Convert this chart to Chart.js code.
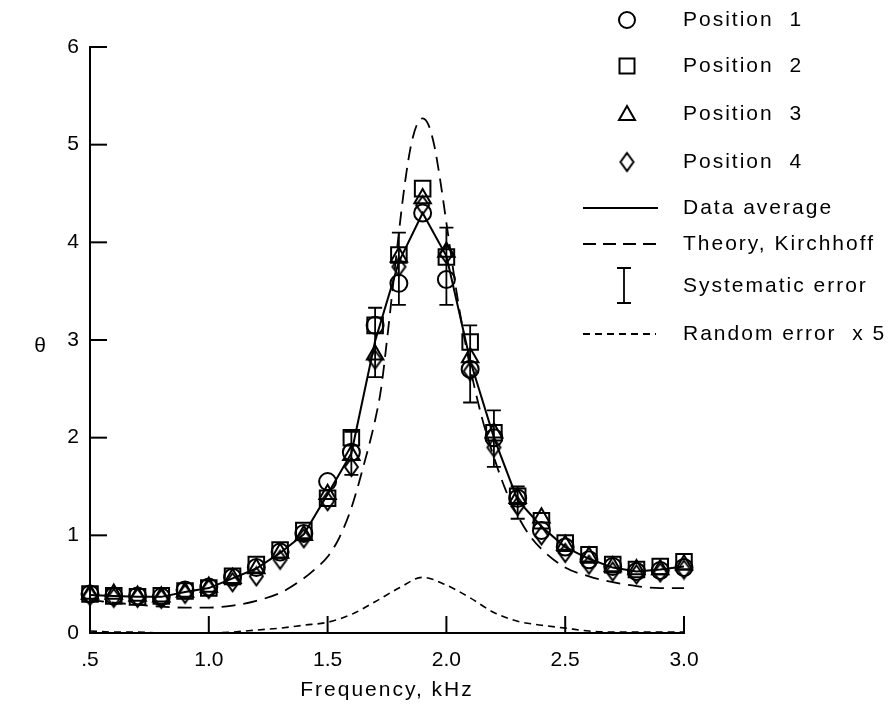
<!DOCTYPE html>
<html>
<head>
<meta charset="utf-8">
<script src="https://cdn.jsdelivr.net/npm/chart.js@4.4.0/dist/chart.umd.min.js"></script>
<style>
body { margin: 0; background: #fff; }
</style>
</head>
<body>
<canvas id="myChart" width="894" height="712"></canvas>
<script>
// measured frequencies (kHz)
var freq = [0.5,0.6,0.7,0.8,0.9,1.0,1.1,1.2,1.3,1.4,1.5,1.6,1.7,1.8,1.9,2.0,2.1,2.2,2.3,2.4,2.5,2.6,2.7,2.8,2.9,3.0];
var pos1 = [0.40,0.38,0.38,0.37,0.44,0.47,0.57,0.67,0.83,1.02,1.55,1.85,3.15,3.58,4.30,3.62,2.70,2.00,1.38,1.05,0.88,0.75,0.68,0.63,0.64,0.67];
var pos2 = [0.40,0.38,0.37,0.38,0.43,0.46,0.58,0.70,0.85,1.05,1.38,2.00,3.15,3.87,4.55,3.85,2.98,2.05,1.40,1.15,0.92,0.80,0.70,0.65,0.68,0.73];
var pos3 = [0.40,0.40,0.38,0.37,0.42,0.47,0.56,0.66,0.82,1.00,1.42,1.82,2.85,3.85,4.45,3.90,2.82,2.05,1.38,1.18,0.90,0.78,0.68,0.65,0.65,0.70];
var pos4 = [0.38,0.36,0.36,0.35,0.40,0.45,0.52,0.58,0.75,0.97,1.35,1.70,2.80,3.75,4.38,3.88,2.68,1.90,1.30,1.00,0.82,0.70,0.63,0.60,0.62,0.65];
var average = [0.39,0.38,0.37,0.37,0.42,0.46,0.56,0.66,0.82,1.01,1.42,1.84,2.99,3.80,4.30,3.86,2.79,2.00,1.36,1.09,0.88,0.76,0.67,0.63,0.65,0.68];
var randomErr = [0.02,0.01,0.01,0.00,0.00,0.00,0.01,0.03,0.05,0.08,0.11,0.19,0.32,0.46,0.57,0.49,0.36,0.21,0.12,0.08,0.05,0.02,0.01,0.01,0.01,0.01];

// Kirchhoff theory curve
var theoryFreq = [0.5,0.6,0.7,0.8,0.9,1.0,1.1,1.2,1.3,1.4,1.45,1.5,1.55,1.6,1.65,1.7,1.725,1.75,1.775,1.8,1.825,1.85,1.875,1.9,1.925,1.95,1.975,2.0,2.05,2.1,2.15,2.2,2.25,2.3,2.35,2.4,2.5,2.6,2.7,2.8,2.9,3.0];
var theory = [0.34,0.31,0.29,0.27,0.26,0.26,0.28,0.33,0.41,0.56,0.66,0.78,0.98,1.28,1.70,2.18,2.50,3.00,3.55,4.10,4.60,4.98,5.20,5.27,5.20,4.98,4.62,4.20,3.38,2.72,2.20,1.80,1.46,1.20,1.00,0.86,0.67,0.58,0.52,0.48,0.46,0.46];

// systematic error bars
var errFreq = [1.6,1.7,1.8,2.0,2.1,2.2,2.3];
var errHigh = [2.06,3.33,4.10,4.15,3.15,2.28,1.50];
var errLow = [1.62,2.62,3.36,3.36,2.36,1.70,1.17];

var xTickLabels = ['.5','1.0','1.5','2.0','2.5','3.0'];
var yTickLabels = ['0','1','2','3','4','5','6'];
var legendLabels = ['Position  1','Position  2','Position  3','Position  4','Data average','Theory, Kirchhoff','Systematic error','Random error  x 5'];

var FONT = '"Liberation Sans", Arial, sans-serif';

function pts(xs, ys) {
    return xs.map(function (x, i) { return {x: x, y: ys[i]}; });
}

// narrow diamond marker
function diamond(w, h) {
    var c = document.createElement('canvas');
    c.width = w + 4; c.height = h + 4;
    var g = c.getContext('2d');
    g.strokeStyle = '#000';
    g.lineWidth = 2;
    g.beginPath();
    g.moveTo(c.width / 2, 2);
    g.lineTo(c.width - 2, c.height / 2);
    g.lineTo(c.width / 2, c.height - 2);
    g.lineTo(2, c.height / 2);
    g.closePath();
    g.stroke();
    return c;
}
var diamondImg = diamond(13, 18);

var markerBase = {
    showLine: false,
    clip: false,
    backgroundColor: 'rgba(0,0,0,0)',
    borderColor: '#000',
    pointBorderWidth: 2
};

var inwardTicks = {
    id: 'inwardTicks',
    beforeDraw: function (chart) {
        chart.ctx.letterSpacing = '2px';
    },
    afterDatasetsDraw: function (chart) {
        var ctx = chart.ctx, xs = chart.scales.x, ys = chart.scales.y;
        ctx.save();
        ctx.strokeStyle = '#000';
        ctx.lineWidth = 1.8;
        errFreq.forEach(function (f, i) {
            var px = xs.getPixelForValue(f);
            var top = ys.getPixelForValue(errHigh[i]);
            var bot = ys.getPixelForValue(errLow[i]);
            ctx.beginPath();
            ctx.moveTo(px, top); ctx.lineTo(px, bot);
            ctx.moveTo(px - 7, top); ctx.lineTo(px + 7, top);
            ctx.moveTo(px - 7, bot); ctx.lineTo(px + 7, bot);
            ctx.stroke();
        });
        ctx.restore();
        // tick labels come next (z: 1), without the extra spacing
        ctx.letterSpacing = '0px';
    },
    afterDraw: function (chart) {
        var ctx = chart.ctx, xs = chart.scales.x, ys = chart.scales.y, a = chart.chartArea;
        ctx.save();
        ctx.strokeStyle = '#000';
        ctx.lineWidth = 2;
        xs.ticks.forEach(function (t) {
            if (t.value === xs.min) return;
            var px = xs.getPixelForValue(t.value);
            ctx.beginPath(); ctx.moveTo(px, a.bottom); ctx.lineTo(px, a.bottom - 17); ctx.stroke();
        });
        ys.ticks.forEach(function (t) {
            if (t.value === ys.min) return;
            var py = ys.getPixelForValue(t.value);
            ctx.beginPath(); ctx.moveTo(a.left, py); ctx.lineTo(a.left + 17, py); ctx.stroke();
        });

        // theta label
        ctx.letterSpacing = '2px';
        ctx.fillStyle = '#000';
        ctx.font = '21px ' + FONT;
        ctx.textAlign = 'center';
        ctx.textBaseline = 'middle';
        ctx.fillText('\u03b8', 41, 346);

        // legend
        var lx = 627, tx = 683;
        var rows = [20, 66, 114, 162, 208, 244, 286, 334];
        ctx.lineWidth = 2;
        ctx.beginPath(); ctx.arc(lx, rows[0], 8, 0, Math.PI * 2); ctx.stroke();
        ctx.strokeRect(lx - 7.5, rows[1] - 7.5, 15, 15);
        ctx.beginPath(); ctx.moveTo(lx, rows[2] - 8); ctx.lineTo(lx + 8, rows[2] + 6); ctx.lineTo(lx - 8, rows[2] + 6); ctx.closePath(); ctx.stroke();
        ctx.drawImage(diamondImg, lx - diamondImg.width / 2, rows[3] - diamondImg.height / 2);
        ctx.beginPath(); ctx.moveTo(583, rows[4]); ctx.lineTo(658, rows[4]); ctx.stroke();
        ctx.lineWidth = 1.8;
        ctx.setLineDash([13, 7]);
        ctx.beginPath(); ctx.moveTo(583, rows[5]); ctx.lineTo(658, rows[5]); ctx.stroke();
        ctx.setLineDash([7, 5]);
        ctx.beginPath(); ctx.moveTo(583, rows[7]); ctx.lineTo(656, rows[7]); ctx.stroke();
        ctx.setLineDash([]);
        ctx.beginPath();
        ctx.moveTo(624, rows[6] - 18); ctx.lineTo(624, rows[6] + 17);
        ctx.moveTo(617, rows[6] - 18); ctx.lineTo(631, rows[6] - 18);
        ctx.moveTo(617, rows[6] + 17); ctx.lineTo(631, rows[6] + 17);
        ctx.stroke();
        ctx.textAlign = 'left';
        legendLabels.forEach(function (s, i) {
            ctx.fillText(s, tx, rows[i]);
        });
        ctx.restore();
    }
};

var ctx = document.getElementById('myChart').getContext('2d');
var myChart = new Chart(ctx, {
    type: 'scatter',
    data: {
        datasets: [
            Object.assign({label: 'Position 1', data: pts(freq, pos1), pointStyle: 'circle', pointRadius: 8.5}, markerBase),
            Object.assign({label: 'Position 2', data: pts(freq, pos2), pointStyle: 'rect', pointRadius: 11}, markerBase),
            Object.assign({label: 'Position 3', data: pts(freq, pos3), pointStyle: 'triangle', pointRadius: 9.5}, markerBase),
            Object.assign({label: 'Position 4', data: pts(freq, pos4), pointStyle: diamondImg, pointRadius: 9}, markerBase),
            {
                label: 'Data average',
                data: pts(freq, average),
                showLine: true,
                pointRadius: 0,
                borderColor: '#000',
                borderWidth: 2,
                tension: 0
            },
            {
                label: 'Theory, Kirchhoff',
                data: pts(theoryFreq, theory),
                showLine: true,
                pointRadius: 0,
                borderColor: '#000',
                borderWidth: 1.8,
                borderDash: [14, 8],
                cubicInterpolationMode: 'monotone'
            },
            {
                label: 'Random error x 5',
                data: pts(freq, randomErr),
                showLine: true,
                pointRadius: 0,
                borderColor: '#000',
                borderWidth: 1.6,
                borderDash: [7, 5],
                cubicInterpolationMode: 'monotone'
            }
        ]
    },
    options: {
        responsive: false,
        animation: false,
        devicePixelRatio: 1,
        layout: {padding: {left: 30, right: 210, top: 47, bottom: 9}},
        plugins: {
            legend: {display: false},
            tooltip: {enabled: false}
        },
        scales: {
            x: {
                type: 'linear',
                min: 0.5,
                max: 3.0,
                grid: {display: false},
                border: {display: true, color: '#000', width: 2},
                ticks: {
                    stepSize: 0.5,
                    padding: 7,
                    z: 1,
                    color: '#000',
                    font: {family: FONT, size: 21},
                    callback: function (v) { return xTickLabels[Math.round((v - 0.5) / 0.5)]; }
                },
                title: {
                    display: true,
                    text: 'Frequency, kHz',
                    color: '#000',
                    font: {family: FONT, size: 21},
                    padding: {top: 0, bottom: 0}
                },
                afterFit: function (s) { s.height = 70; }
            },
            y: {
                min: 0,
                max: 6,
                grid: {display: false},
                border: {display: true, color: '#000', width: 2},
                ticks: {
                    stepSize: 1,
                    padding: 3,
                    z: 1,
                    color: '#000',
                    font: {family: FONT, size: 21},
                    callback: function (v) { return yTickLabels[v]; }
                },
                afterFit: function (s) { s.width = 60; }
            }
        }
    },
    plugins: [inwardTicks]
});
</script>
</body>
</html>
